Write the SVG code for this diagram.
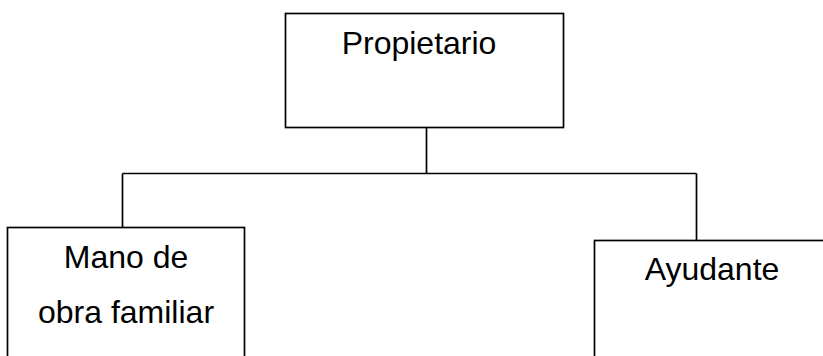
<svg xmlns="http://www.w3.org/2000/svg" width="823" height="356" viewBox="0 0 823 356">
<style>
.box{fill:#fff;stroke:#000;stroke-width:1.7}
.ln{fill:none;stroke:#000;stroke-width:1.7}
.t{font-family:"Liberation Sans",Arial,sans-serif;font-size:32px;fill:#000;text-anchor:middle}
</style>
<rect width="823" height="356" fill="#fff"/>
<g id="connectors">
<path class="ln" d="M426.5,127.5 V173.5 M122.5,173.5 H696.5 M122.5,173.5 V227.5 M696.5,173.5 V240.5"/>
</g>
<g id="propietario">
<rect class="box" x="285.5" y="13.5" width="278" height="114"/>
<text class="t" x="419" y="54">Propietario</text>
</g>
<g id="mano-de-obra">
<rect class="box" x="7.5" y="227.5" width="237" height="140"/>
<text class="t" x="126" y="268">Mano de</text>
<text class="t" x="126" y="323">obra familiar</text>
</g>
<g id="ayudante">
<rect class="box" x="594.5" y="240.5" width="240" height="130"/>
<text class="t" x="712" y="280">Ayudante</text>
</g>
</svg>
